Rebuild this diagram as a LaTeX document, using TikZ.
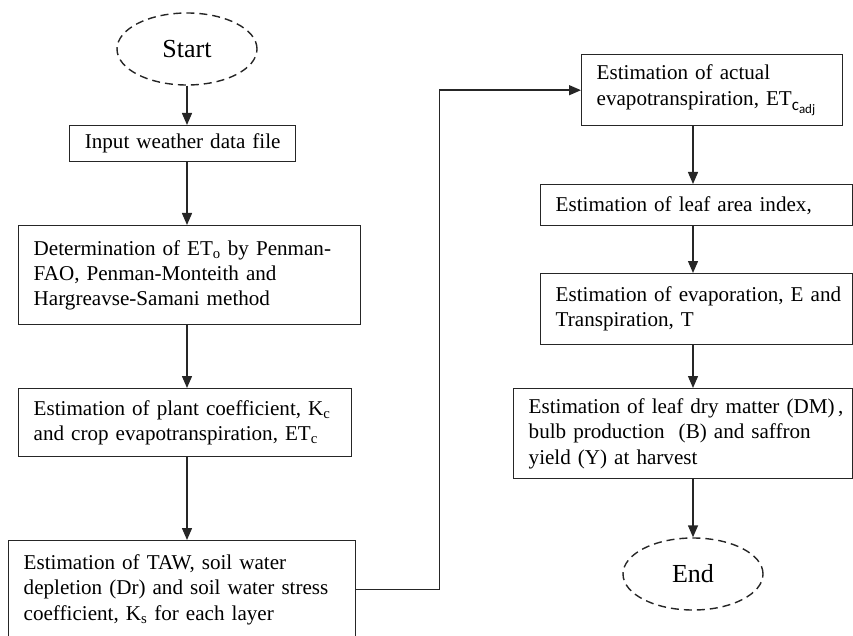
\documentclass[tikz,border=0pt]{standalone}
\usepackage{fontspec}
\setmainfont{Liberation Serif}
\newfontfamily\subfont{Carlito}
\usetikzlibrary{shapes.geometric, arrows.meta}

\tikzset{
  stepbox/.style={draw=black!85, line width=1.4pt, rectangle, anchor=north west,
    inner xsep=15pt, align=left, font=\fontsize{21.1}{25.2}\selectfont},
  terminal/.style={draw=black!85, line width=1.4pt, dash pattern=on 8pt off 5pt,
    ellipse, minimum width=140pt, minimum height=72pt, font=\fontsize{26}{30}\selectfont},
  flow/.style={draw=black!85, line width=1.4pt, -{Triangle[length=12pt, width=10pt]}}
}

\begin{document}
\begin{tikzpicture}[x=1pt, y=-1pt]
    \useasboundingbox (0,0) rectangle (853,636);
    \clip (0,0) rectangle (853,636);

    % Left column
    \node[terminal] (start) at (187,49) {Start};
    \node[stepbox, align=center, inner xsep=0pt, minimum width=226pt, minimum height=36pt,
      text width=226pt] (input) at (69,125) {Input weather data file};
    \node[stepbox, text width=312pt, minimum height=99pt] (eto) at (18,225)
      {\mbox{Determination of ET\textsubscript{o} by Penman-}\\FAO, Penman-Monteith and\\Hargreavse-Samani method};
    \node[stepbox, text width=303pt, minimum height=68pt] (etc) at (18,388)
      {\mbox{Estimation of plant coefficient, K\textsubscript{c}}\\\mbox{and crop evapotranspiration, ET\textsubscript{c}}};
    \node[stepbox, text width=317pt, minimum height=98pt] (taw) at (8,540)
      {Estimation of TAW, soil water\\\mbox{depletion (Dr) and soil water stress}\\coefficient, K\textsubscript{s} for each layer};

    % Right column
    \node[stepbox, text width=231pt, minimum height=71pt] (etadj) at (581,54)
      {Estimation of actual\\\mbox{evapotranspiration, ET\raisebox{-5pt}{\subfont\fontsize{17}{17}\selectfont c\raisebox{-3pt}{\fontsize{13}{13}\selectfont adj}}}};
    \node[stepbox, text width=282pt, minimum height=41pt] (lai) at (540,184)
      {Estimation of leaf area index,};
    \node[stepbox, text width=282pt, minimum height=71pt] (evap) at (540,273)
      {\mbox{Estimation of evaporation, E and}\\Transpiration, T};
    \node[stepbox, text width=309pt, minimum height=90pt] (yield) at (513,388)
      {\mbox{Estimation of leaf dry matter (DM)\,,}\\\mbox{bulb production~ (B) and saffron}\\yield (Y) at harvest};
    \node[terminal] (end) at (693,574) {End};

    % Arrows
    \draw[flow] (start) -- (start |- input.north);
    \draw[flow] (start |- input.south) -- (start |- eto.north);
    \draw[flow] (start |- eto.south) -- (start |- etc.north);
    \draw[flow] (start |- etc.south) -- (start |- taw.north);
    \draw[flow] (taw.east) -- ++(83,0) |- (etadj.west);
    \draw[flow] (end |- etadj.south) -- (end |- lai.north);
    \draw[flow] (end |- lai.south) -- (end |- evap.north);
    \draw[flow] (end |- evap.south) -- (end |- yield.north);
    \draw[flow] (end |- yield.south) -- (end.north);
\end{tikzpicture}
\end{document}
